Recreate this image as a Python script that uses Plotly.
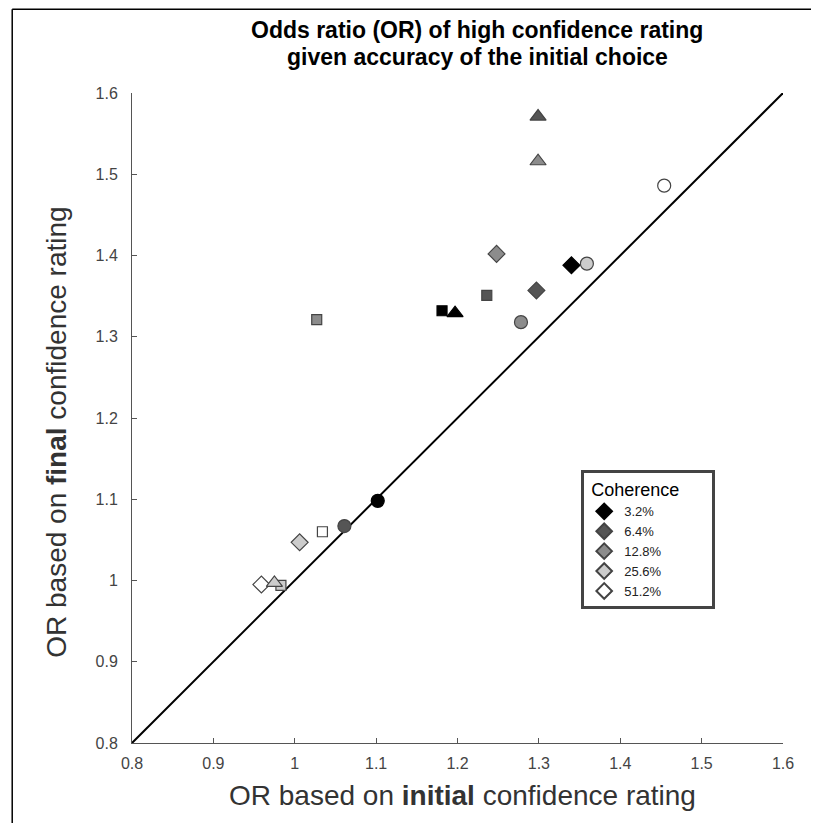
import plotly.graph_objects as go

# coherence levels and their grey shades (one colour per level)
coherence = ["3.2%", "6.4%", "12.8%", "25.6%", "51.2%"]
shades = ["#000000", "#555555", "#8c8c8c", "#cccccc", "#ffffff"]

# OR values per marker group, ordered by coherence (None = not shown)
diamond_x = [1.340, 1.297, 1.248, 1.006, 0.959]
diamond_y = [1.388, 1.357, 1.402, 1.047, 0.995]
square_x = [1.181, 1.236, 1.027, 0.983, 1.034]
square_y = [1.332, 1.351, 1.321, 0.994, 1.060]
triangle_x = [1.197, 1.299, 1.299, 0.975, None]
triangle_y = [1.329, 1.571, 1.516, 0.997, None]
circle_x = [1.102, 1.061, 1.278, 1.359, 1.454]
circle_y = [1.098, 1.067, 1.318, 1.390, 1.486]

diag = [0.8, 1.6]
tick_vals = [0.8, 0.9, 1.0, 1.1, 1.2, 1.3, 1.4, 1.5, 1.6]
tick_text = ["0.8", "0.9", "1", "1.1", "1.2", "1.3", "1.4", "1.5", "1.6"]

FONT = "Liberation Sans, Arial, sans-serif"

fig = go.Figure()

# identity line
fig.add_trace(go.Scatter(x=diag, y=diag, mode="lines",
                         line=dict(color="black", width=2),
                         showlegend=False, hoverinfo="skip"))

groups = [
    ("diamond", diamond_x, diamond_y, 13),
    ("square", square_x, square_y, 10),
    ("triangle-up", triangle_x, triangle_y, 14),
    ("circle", circle_x, circle_y, 13),
]
for symbol, xs, ys, size in groups:
    outline = ["#000000" if c == "#000000" else "#444444" for c in shades]
    fig.add_trace(go.Scatter(
        x=xs, y=ys, mode="markers", showlegend=False,
        marker=dict(symbol=symbol, size=size, color=shades,
                    line=dict(color=outline, width=1.2)),
    ))

# legend entries (diamonds, one per coherence level)
for lab, col in zip(coherence, shades):
    fig.add_trace(go.Scatter(
        x=[None], y=[None], mode="markers", name=lab,
        marker=dict(symbol="diamond", size=12, color=col,
                    line=dict(color="#000000" if col == "#000000" else "#444444", width=1)),
    ))

axis_style = dict(
    range=[0.8, 1.6], tickvals=tick_vals, ticktext=tick_text,
    showgrid=False, zeroline=False, showline=True, linecolor="#555555",
    linewidth=1, ticks="inside", ticklen=5, tickcolor="#555555",
    tickfont=dict(size=16, color="#444444"),
)

fig.update_layout(
    width=803, height=815,
    paper_bgcolor="white", plot_bgcolor="white",
    font=dict(family=FONT, color="#333333"),
    margin=dict(l=124, r=28, t=85, b=80),
    xaxis=dict(axis_style, ticklabelstandoff=6),
    yaxis=dict(axis_style, ticklabelstandoff=10),
    legend=dict(
        x=0.69, y=0.42, xanchor="left", yanchor="top",
        bordercolor="#444444", borderwidth=3, bgcolor="white",
        title=dict(text="&nbsp;Coherence" + "&nbsp;" * 6, font=dict(size=18, color="black")),
        font=dict(size=13, color="#222222"),
        itemsizing="constant",
    ),
    annotations=[
        dict(text="<b>Odds ratio (OR) of high confidence rating</b>", xref="paper", yref="paper",
             x=0.53, y=1.097, xanchor="center", yanchor="middle", showarrow=False,
             font=dict(size=23, color="black")),
        dict(text="<b>given accuracy of the initial choice</b>", xref="paper", yref="paper",
             x=0.53, y=1.056, xanchor="center", yanchor="middle", showarrow=False,
             font=dict(size=23, color="black")),
        dict(text="OR based on <b>initial</b> confidence rating", xref="paper", yref="paper",
             x=0.507, y=-0.0815, xanchor="center", yanchor="middle", showarrow=False,
             font=dict(size=28, color="#333333")),
        dict(text="OR based on <b>final</b> confidence rating", xref="paper", yref="paper",
             x=-0.116, y=0.478, xanchor="center", yanchor="middle", showarrow=False,
             textangle=-90, font=dict(size=28, color="#333333")),
    ],
    # outer frame: only its left and top edges fall inside the picture
    shapes=[
        dict(type="line", xref="paper", yref="paper", x0=-0.184, x1=-0.184, y0=-0.3, y1=1.129,
             line=dict(color="black", width=1.5), layer="below"),
        dict(type="line", xref="paper", yref="paper", x0=-0.184, x1=1.3, y0=1.129, y1=1.129,
             line=dict(color="black", width=1.5), layer="below"),
    ],
)

fig.write_html("out.html")
